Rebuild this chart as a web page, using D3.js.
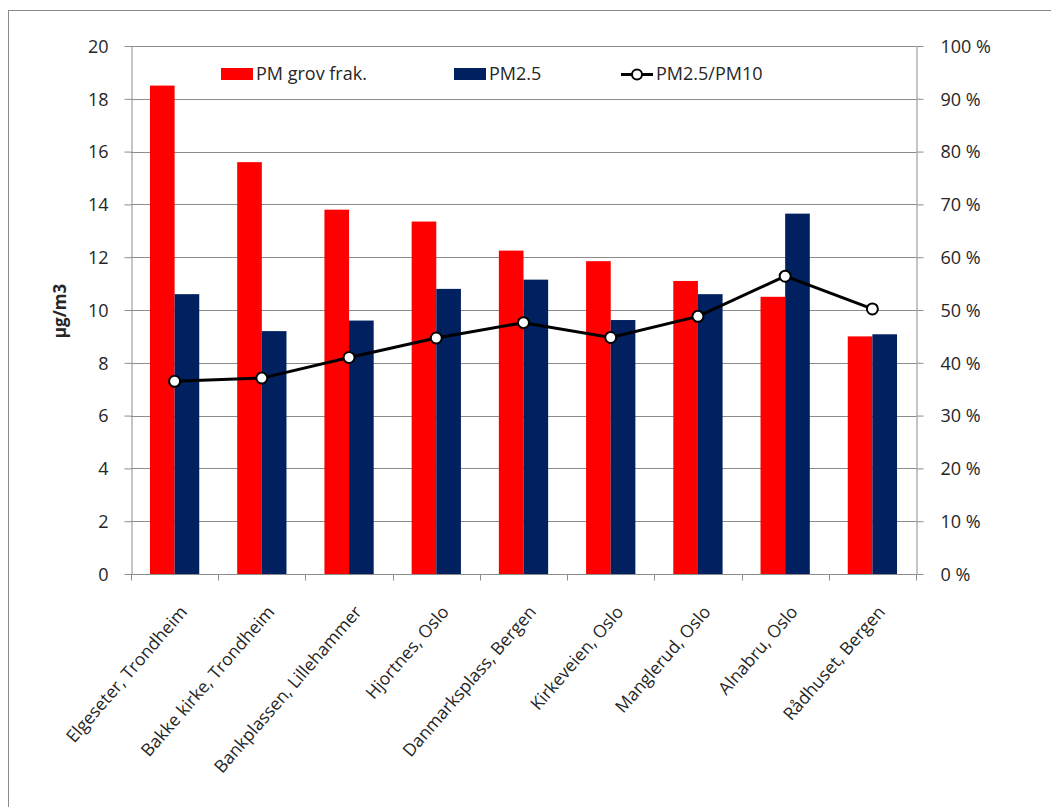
<!DOCTYPE html>
<html>
<head>
<meta charset="utf-8">
<script src="https://cdn.jsdelivr.net/npm/d3@7"></script>
<style>
  html, body { margin: 0; padding: 0; background: #fff; }
  svg { display: block; }
  text { font-family: "Open Sans", "DejaVu Sans", sans-serif; fill: #262626; }
</style>
</head>
<body>
<svg id="chart" width="1051" height="807"></svg>
<script>
// Measuring stations
const categories = [
  "Elgeseter, Trondheim", "Bakke kirke, Trondheim", "Bankplassen, Lillehammer",
  "Hjortnes, Oslo", "Danmarksplass, Bergen", "Kirkeveien, Oslo",
  "Manglerud, Oslo", "Alnabru, Oslo", "Rådhuset, Bergen"
];
// Coarse fraction (PM10 - PM2.5), µg/m3
const coarse = [18.5, 15.6, 13.8, 13.35, 12.25, 11.85, 11.1, 10.5, 9.0];
// PM2.5, µg/m3
const pm25 = [10.6, 9.2, 9.6, 10.8, 11.15, 9.62, 10.6, 13.65, 9.08];
// PM2.5 share of PM10, %
const ratio = [36.5, 37.1, 41.0, 44.7, 47.6, 44.8, 48.8, 56.4, 50.2];

const seriesNames = ["PM grov frak.", "PM2.5", "PM2.5/PM10"];
const seriesColors = ["#ff0000", "#002060"];
const leftTicks = [0, 2, 4, 6, 8, 10, 12, 14, 16, 18, 20];
const rightTicks = [0, 10, 20, 30, 40, 50, 60, 70, 80, 90, 100];

const svg = d3.select("#chart");
const plot = { left: 131, right: 916, top: 46, bottom: 574 };

// outer frame
svg.append("rect")
  .attr("x", 8.5).attr("y", 10.5)
  .attr("width", 1060).attr("height", 820)
  .attr("fill", "none").attr("stroke", "#8a8a8a").attr("stroke-width", 1);

const x0 = d3.scaleBand().domain(categories).range([plot.left, plot.right]).padding(0);
const x1 = d3.scaleBand().domain([0, 1]).range([0, x0.bandwidth()])
  .paddingInner(0).paddingOuter(0.77);
const yL = d3.scaleLinear().domain([0, 20]).range([plot.bottom, plot.top]);
const yR = d3.scaleLinear().domain([0, 100]).range([plot.bottom, plot.top]);

// gridlines
svg.append("g")
  .selectAll("line").data(leftTicks.filter(d => d > 0)).join("line")
  .attr("x1", plot.left).attr("x2", plot.right)
  .attr("y1", d => Math.round(yL(d)) + 0.5).attr("y2", d => Math.round(yL(d)) + 0.5)
  .attr("stroke", "#8c8c8c").attr("stroke-width", 1);

// bars
const groups = svg.append("g").selectAll("g").data(categories).join("g")
  .attr("transform", d => `translate(${x0(d)},0)`);
groups.selectAll("rect")
  .data((d, i) => [coarse[i], pm25[i]])
  .join("rect")
  .attr("x", (d, j) => x1(j))
  .attr("width", x1.bandwidth())
  .attr("y", d => yL(d))
  .attr("height", d => yL(0) - yL(d))
  .attr("fill", (d, j) => seriesColors[j]);

// axes
function styleAxis(g) {
  g.select(".domain").attr("stroke", "#8c8c8c");
  g.selectAll(".tick line").attr("stroke", "#8c8c8c");
  g.selectAll(".tick text").style("font-size", "18px").attr("fill", "#262626");
}

svg.append("g")
  .attr("transform", `translate(${plot.left + 0.5},0)`)
  .call(d3.axisLeft(yL).tickValues(leftTicks).tickSize(7).tickSizeOuter(0).tickPadding(16))
  .call(styleAxis)
  .call(g => g.selectAll(".tick text").attr("dy", "0.35em"));

svg.append("g")
  .attr("transform", `translate(${plot.right + 0.5},0)`)
  .call(d3.axisRight(yR).tickValues(rightTicks).tickSize(7).tickSizeOuter(0).tickPadding(17)
    .tickFormat(d => d + " %"))
  .call(styleAxis)
  .call(g => g.selectAll(".tick text").attr("dy", "0.35em"));

// bottom axis: ticks at category boundaries
const xAxisG = svg.append("g").attr("transform", `translate(0,${plot.bottom + 0.5})`);
xAxisG.append("line")
  .attr("x1", plot.left).attr("x2", plot.right)
  .attr("stroke", "#8c8c8c");
const bounds = categories.map(c => x0(c)).concat([plot.right]);
xAxisG.selectAll(".bt").data(bounds).join("line")
  .attr("class", "bt")
  .attr("x1", d => Math.round(d) + 0.5).attr("x2", d => Math.round(d) + 0.5)
  .attr("y1", 0).attr("y2", 6)
  .attr("stroke", "#8c8c8c");
xAxisG.selectAll(".cl").data(categories).join("text")
  .attr("class", "cl")
  .attr("transform", d => `translate(${x0(d) + x0.bandwidth() / 2 + 9},${34}) rotate(-49)`)
  .attr("text-anchor", "end")
  .attr("dy", "0.35em")
  .style("font-size", "17.5px")
  .text(d => d);

// ratio line
const line = d3.line()
  .x((d, i) => x0(categories[i]) + x0.bandwidth() / 2)
  .y(d => yR(d));
svg.append("path")
  .datum(ratio)
  .attr("d", line)
  .attr("fill", "none").attr("stroke", "#000").attr("stroke-width", 3);
svg.append("g").selectAll("circle").data(ratio).join("circle")
  .attr("cx", (d, i) => x0(categories[i]) + x0.bandwidth() / 2)
  .attr("cy", d => yR(d))
  .attr("r", 5.5)
  .attr("fill", "#fff").attr("stroke", "#000").attr("stroke-width", 2);

// y-axis title
svg.append("text")
  .attr("transform", `translate(66,311) rotate(-90)`)
  .attr("text-anchor", "middle")
  .style("font-size", "17px").style("font-weight", "bold")
  .text("µg/m3");

// legend
const legend = svg.append("g");
const legendItems = [
  { x: 221, name: seriesNames[0], type: "rect", color: seriesColors[0] },
  { x: 454, name: seriesNames[1], type: "rect", color: seriesColors[1] },
  { x: 621, name: seriesNames[2], type: "line" }
];
legendItems.forEach(it => {
  if (it.type === "rect") {
    legend.append("rect").attr("x", it.x).attr("y", 68).attr("width", 32).attr("height", 12)
      .attr("fill", it.color);
  } else {
    legend.append("line").attr("x1", it.x).attr("x2", it.x + 32).attr("y1", 74.5).attr("y2", 74.5)
      .attr("stroke", "#000").attr("stroke-width", 3);
    legend.append("circle").attr("cx", it.x + 16).attr("cy", 74.5).attr("r", 5)
      .attr("fill", "#fff").attr("stroke", "#000").attr("stroke-width", 2);
  }
  legend.append("text").attr("x", it.x + 35).attr("y", 74).attr("dy", "0.35em")
    .style("font-size", "18px").text(it.name);
});
</script>
</body>
</html>
